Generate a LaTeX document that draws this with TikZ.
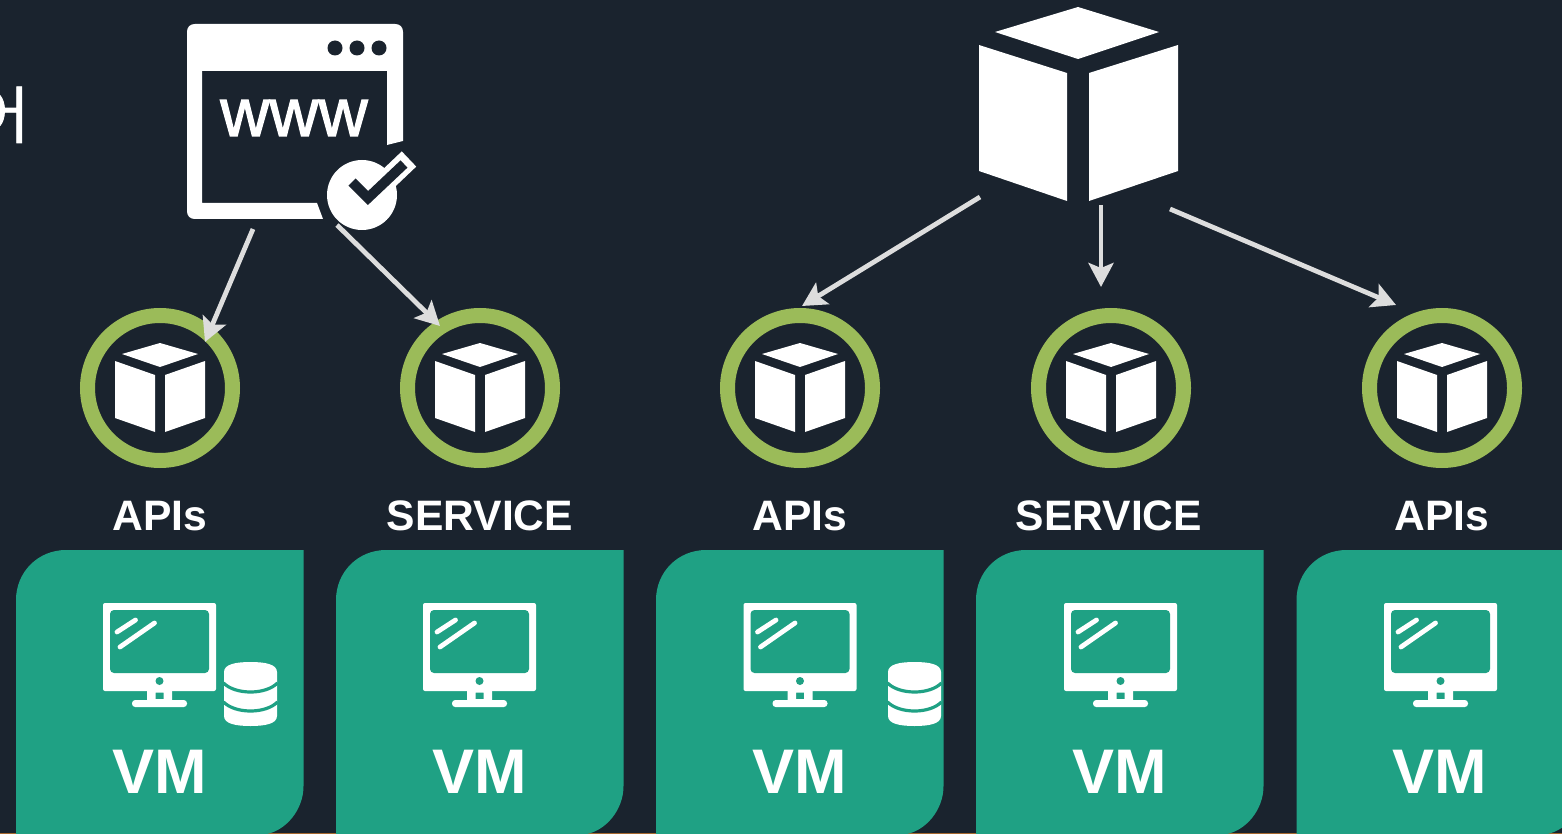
\documentclass[tikz,border=0pt]{standalone}
\usepackage{fontspec}
\setmainfont{Liberation Sans}
\newfontfamily\krfont[FakeBold=1.3]{Noto Sans CJK KR}
\newfontfamily\wwwfont[FakeBold=1.8]{Liberation Sans}
\usetikzlibrary{arrows.meta}
\definecolor{bgc}{HTML}{1A232E}
\definecolor{teal1}{HTML}{1FA184}
\definecolor{ringc}{HTML}{9BBB59}
\definecolor{arrowc}{HTML}{DDDDDD}
\definecolor{edgec}{HTML}{A5682F}
\tikzset{
  x=0.5pt,y=-0.5pt,
  ring/.style={circle,draw=ringc,line width=7.5pt,minimum size=72.5pt,inner sep=0pt},
  lbl/.style={text=white,font=\fontsize{21.3}{21.3}\selectfont\bfseries,anchor=base},
  vmlbl/.style={text=white,font=\fontsize{31.5}{31.5}\selectfont\bfseries,anchor=base},
  conn/.style={draw=arrowc,line width=2.4pt,-{Stealth[length=12pt,width=12.5pt,inset=2.5pt]}},
  pics/smallcube/.style={code={
    \fill[white] (0,-45)--(-38,-34)--(0,-21)--(38,-34)--cycle;
    \fill[white] (-45,-27)--(-5,-13)--(-5,44)--(-45,30)--cycle;
    \fill[white] (45,-27)--(5,-13)--(5,44)--(45,30)--cycle;
  }},
  pics/monitor/.style={code={
    % origin = monitor centre x, y=0 at image top
    \fill[white,rounded corners=1pt] (-56.5,603)--(56.5,603)--(56.5,691)--(-56.5,691)--cycle;
    \fill[teal1,rounded corners=2pt] (-49.5,610)--(49.5,610)--(49.5,673)--(-49.5,673)--cycle;
    \fill[teal1] (0,681) circle[radius=4];
    \fill[white,even odd rule] (-12.5,691) rectangle (12.5,701) (-4,692.5) rectangle (4,699);
    \fill[white,rounded corners=1.6pt] (-27.5,700) rectangle (27.5,707);
    \draw[white,line width=2.4pt,line cap=round] (-42.5,632)--(-24,620);
    \draw[white,line width=2.4pt,line cap=round] (-39.5,647)--(-5,623);
  }},
  pics/dbicon/.style={code={
    % origin = icon centre x, y=0 at image top
    \fill[white] (-26.5,672) .. controls (-26.5,664) and (-14,662) .. (0,662)
       .. controls (14,662) and (26.5,664) .. (26.5,672)
       -- (26.5,716) .. controls (26.5,724) and (14,726) .. (0,726)
       .. controls (-14,726) and (-26.5,724) .. (-26.5,716) -- cycle;
    \draw[teal1,line width=1.6pt] (-27,683) .. controls (-15,695) and (15,695) .. (27,683);
    \draw[teal1,line width=1.6pt] (-27,702) .. controls (-15,714) and (15,714) .. (27,702);
  }},
}
\newcommand{\vmbox}[1]{%
  \fill[teal1] (#1,834) -- (#1,600) .. controls (#1,572) and (#1+22,550) .. (#1+50,550)
    -- (#1+287.5,550) -- (#1+287.5,786) .. controls (#1+287.5,810) and (#1+270,830) .. (#1+251,834) -- cycle;}
\begin{document}
\begin{tikzpicture}
\useasboundingbox (0,0) rectangle (1562,834);
\fill[bgc] (0,0) rectangle (1562,834);
\fill[edgec] (0,833) rectangle (1562,834);
% clipped Korean glyph at the left edge
\begin{scope}
\clip (0,0) rectangle (1562,834);
\node[anchor=base east,inner sep=0pt,text=white,font=\krfont\fontsize{31}{31}\selectfont] (kor) at (30,138) {어};
\end{scope}
% browser window
\fill[white] (195,24)--(395,24) .. controls (400,24) and (403,27) .. (403,32)
  --(403,141)--(387,145)--(387,71)--(202,71)--(202,203)--(317,203)--(323,219)--(195,219)
  .. controls (190,219) and (187,216) .. (187,211) -- (187,32) .. controls (187,27) and (190,24) .. (195,24) -- cycle;
\fill[bgc] (335,48) circle[radius=7.5] (357,48) circle[radius=7.5] (379,48) circle[radius=7.5];
\node[anchor=base,inner sep=0pt,text=white,font=\wwwfont\fontsize{34}{34}\selectfont] (www) at (294,136) {www};
\fill[white] (362,195) circle[radius=35];
\draw[white,line width=10.5pt] (368,198)--(409,159);
\draw[bgc,line width=5pt] (352,182)--(368,198)--(404,164);
% big cube
\fill[white] (1078,7)--(995,32)--(1078,59)--(1159,32)--cycle;
\fill[white] (979,45)--(1067,73)--(1067,201)--(979,171)--cycle;
\fill[white] (1178,45)--(1089,73)--(1089,201)--(1178,171)--cycle;
% rings
\node[ring] (r1) at (160,388) {};
\node[ring] (r2) at (480,388) {};
\node[ring] (r3) at (800,388) {};
\node[ring] (r4) at (1111,388) {};
\node[ring] (r5) at (1442,388) {};
\foreach \c in {160,480,800,1111,1442} \pic at (\c,388) {smallcube};
% labels
\node[lbl] (l1) at (160,530) {APIs};
\node[lbl] (l2) at (480,530) {SERVICE};
\node[lbl] (l3) at (800,530) {APIs};
\node[lbl] (l4) at (1109,530) {SERVICE};
\node[lbl] (l5) at (1442,530) {APIs};
% VM panels
\vmbox{16}\vmbox{336}\vmbox{656}\vmbox{976}\vmbox{1296.5}
\foreach \c in {159.5,479.5,800,1120.5,1440.5} \pic at (\c,0) {monitor};
\pic at (250.5,0) {dbicon};
\pic at (914.5,0) {dbicon};
\node[vmlbl] (v1) at (160,793) {VM};
\node[vmlbl] (v2) at (480,793) {VM};
\node[vmlbl] (v3) at (800,793) {VM};
\node[vmlbl] (v4) at (1120,793) {VM};
\node[vmlbl] (v5) at (1440,793) {VM};
% connector ends
\coordinate (s1) at (253,229); \coordinate (e1) at (205,342);
\coordinate (s2) at (337,225); \coordinate (e2) at (440,326);
\coordinate (s3) at (980,197); \coordinate (e3) at (802,306);
\coordinate (s4) at (1101,205); \coordinate (e4) at (1101,287);
\coordinate (s5) at (1170,209); \coordinate (e5) at (1396,305);
\draw[conn] (s1)--(e1);
\draw[conn] (s2)--(e2);
\draw[conn] (s3)--(e3);
\draw[conn] (s4)--(e4);
\draw[conn] (s5)--(e5);
\end{tikzpicture}
\end{document}
